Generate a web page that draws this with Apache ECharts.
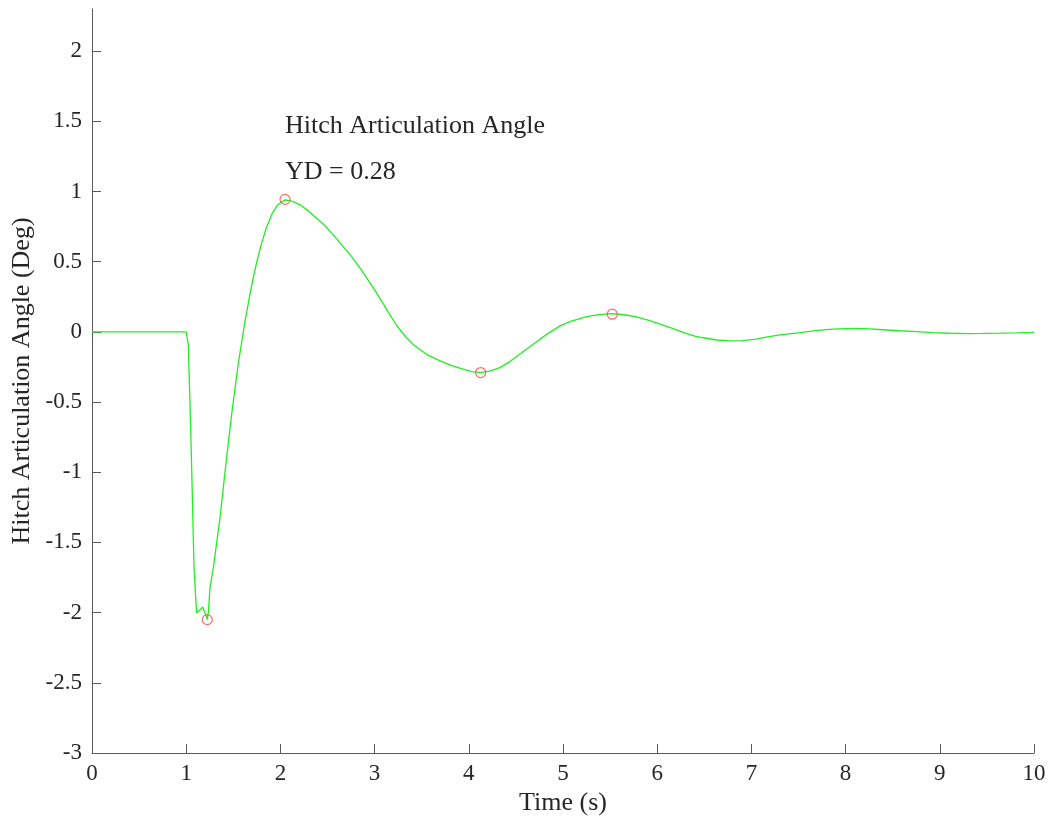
<!DOCTYPE html>
<html>
<head>
<meta charset="utf-8">
<script src="https://cdn.jsdelivr.net/npm/echarts@6/dist/echarts.min.js"></script>
<style>
html,body{margin:0;padding:0;background:#fff;}
#chart{width:1051px;height:819px;}
</style>
</head>
<body>
<div id="chart"></div>
<script>
// Time (s)
var timeValues = [0, 1.0, 1.005, 1.022, 1.04, 1.058, 1.083, 1.11, 1.128, 1.15, 1.175, 1.195, 1.215, 1.224, 1.235, 1.253, 1.29, 1.36, 1.41, 1.48, 1.55, 1.62, 1.68, 1.71, 1.75, 1.80, 1.85, 1.91, 1.97, 2.05, 2.13, 2.21, 2.30, 2.40, 2.46, 2.55, 2.65, 2.74, 2.85, 2.99, 3.06, 3.15, 3.24, 3.33, 3.41, 3.55, 3.69, 3.82, 3.94, 4.03, 4.12, 4.22, 4.33, 4.44, 4.54, 4.68, 4.83, 4.97, 5.08, 5.18, 5.25, 5.38, 5.52, 5.65, 5.78, 5.92, 6.03, 6.14, 6.28, 6.40, 6.49, 6.63, 6.78, 6.90, 7.05, 7.16, 7.30, 7.52, 7.70, 7.87, 8.00, 8.12, 8.25, 8.40, 8.58, 8.75, 8.93, 9.11, 9.30, 9.46, 9.65, 9.82, 10];
// Hitch articulation angle (Deg)
var angleValues = [0, 0, 0, -0.09, -0.5, -0.97, -1.68, -2.0, -2.0, -1.98, -1.96, -1.97, -2.03, -2.05, -2.0, -1.82, -1.67, -1.32, -1.01, -0.60, -0.24, 0.06, 0.28, 0.38, 0.50, 0.63, 0.74, 0.84, 0.905, 0.94, 0.93, 0.905, 0.86, 0.80, 0.765, 0.70, 0.62, 0.55, 0.45, 0.31, 0.235, 0.135, 0.04, -0.035, -0.09, -0.16, -0.205, -0.24, -0.265, -0.283, -0.29, -0.28, -0.255, -0.21, -0.16, -0.09, -0.016, 0.043, 0.075, 0.095, 0.108, 0.123, 0.13, 0.122, 0.107, 0.08, 0.055, 0.03, -0.005, -0.03, -0.042, -0.058, -0.064, -0.062, -0.052, -0.038, -0.022, -0.005, 0.010, 0.019, 0.023, 0.024, 0.021, 0.015, 0.008, 0.002, -0.006, -0.010, -0.012, -0.011, -0.009, -0.007, -0.004];
// Peak markers
var peakTimes = [1.224, 2.049, 4.126, 5.523];
var peakValues = [-2.05, 0.944, -0.29, 0.126];
// Tick labels
var yTicks = [-3, -2.5, -2, -1.5, -1, -0.5, 0, 0.5, 1, 1.5, 2];
var annotationTitle = 'Hitch Articulation Angle';
var annotationYD = 'YD = 0.28';

var lineData = timeValues.map(function (t, i) { return [t, angleValues[i]]; });
var peakData = peakTimes.map(function (t, i) { return [t, peakValues[i]]; });

var FONT = '"Liberation Serif", "Times New Roman", serif';
var TXT = '#262626';
var AX = '#595959';

var chart = echarts.init(document.getElementById('chart'), null, {renderer: 'canvas'});
chart.setOption({
  animation: false,
  backgroundColor: '#ffffff',
  grid: {left: 92, right: 17, top: 9, bottom: 66, containLabel: false, outerBoundsMode: 'none'},
  xAxis: {
    type: 'value', min: 0, max: 10, interval: 1,
    name: 'Time (s)', nameLocation: 'middle', nameGap: 35,
    nameTextStyle: {fontFamily: FONT, fontSize: 26, color: TXT},
    axisLine: {show: true, onZero: false, lineStyle: {color: AX, width: 1}},
    axisTick: {show: true, inside: true, length: 9, lineStyle: {color: AX}},
    axisLabel: {fontFamily: FONT, fontSize: 23, color: TXT, margin: 9},
    splitLine: {show: false}
  },
  yAxis: {
    type: 'value', min: -3, max: 2.3,
    name: 'Hitch Articulation Angle (Deg)', nameLocation: 'middle', nameGap: 57, nameRotate: 90,
    nameTextStyle: {fontFamily: FONT, fontSize: 26, color: TXT},
    axisLine: {show: true, onZero: false, lineStyle: {color: AX, width: 1}},
    axisTick: {show: true, inside: true, length: 9, lineStyle: {color: AX}, customValues: yTicks},
    axisLabel: {fontFamily: FONT, fontSize: 23, color: TXT, margin: 10, customValues: yTicks},
    splitLine: {show: false}
  },
  graphic: [
    {type: 'text', left: 285, top: 113, style: {text: annotationTitle, font: '26px ' + FONT, fill: TXT}},
    {type: 'text', left: 285, top: 159, style: {text: annotationYD, font: '26px ' + FONT, fill: TXT}}
  ],
  series: [
    {
      type: 'line', data: lineData, showSymbol: false, symbol: 'none',
      lineStyle: {color: '#22ee22', width: 1.3}, smooth: false, z: 2
    },
    {
      type: 'scatter', data: peakData, symbol: 'circle', symbolSize: 10,
      itemStyle: {color: 'rgba(0,0,0,0)', borderColor: '#ff4444', borderWidth: 1.2}, z: 3
    }
  ]
});
</script>
</body>
</html>
